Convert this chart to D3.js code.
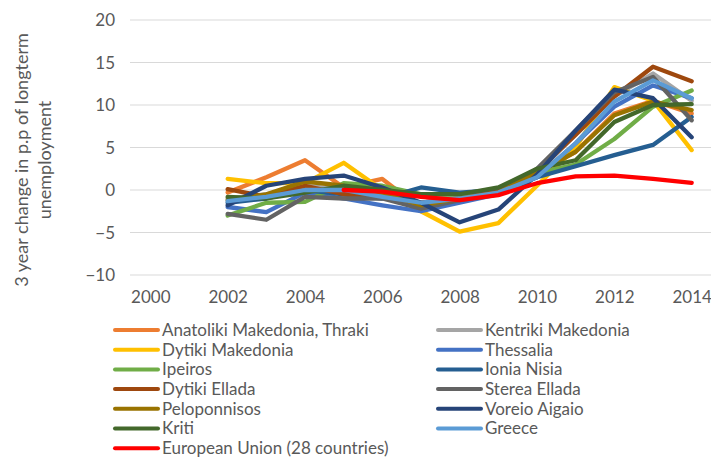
<!DOCTYPE html>
<html><head><meta charset="utf-8">
<script src="https://cdn.jsdelivr.net/npm/d3@7"></script>
<style>body{margin:0;background:#fff;} text{font-family:Lato, "Open Sans", sans-serif; fill:#595959;}</style>
</head><body><svg id="c" width="711" height="457"></svg>
<script>
const years = [2000,2001,2002,2003,2004,2005,2006,2007,2008,2009,2010,2011,2012,2013,2014];
const xTickLabels = [2000,2002,2004,2006,2008,2010,2012,2014];
const yTicks = [-10,-5,0,5,10,15,20];
const seriesNames = ["Anatoliki Makedonia, Thraki","Kentriki Makedonia","Dytiki Makedonia","Thessalia","Ipeiros","Ionia Nisia","Dytiki Ellada","Sterea Ellada","Peloponnisos","Voreio Aigaio","Kriti","Greece","European Union (28 countries)"];
const seriesColors = ["#ED7D31","#A5A5A5","#FFC000","#4472C4","#70AD47","#255E91","#9E480E","#636363","#997300","#264478","#43682B","#5B9BD5","#FF0000"];
const anatoliki   = [null,null,-0.3,1.5,3.5,0.3,1.3,-2.2,-1.2,-0.5,2.0,4.5,9.0,10.5,9.0];
const kentriki    = [null,null,-1.0,-0.5,0.5,0.0,-0.5,-1.5,-1.0,-0.3,2.0,6.5,11.0,13.7,10.5];
const dytikiMak   = [null,null,1.3,0.8,0.8,3.2,0.0,-2.5,-4.9,-3.9,0.5,5.0,12.1,10.5,4.7];
const thessalia   = [null,null,-2.0,-2.6,-0.3,-1.0,-1.8,-2.5,-1.5,-0.5,1.5,5.5,9.8,12.3,10.8];
const ipeiros     = [null,null,-3.0,-1.5,-1.4,0.8,0.5,-0.5,-0.5,0.0,2.0,3.0,6.0,9.8,11.7];
const ioniaNisia  = [null,null,-1.5,-1.0,0.0,-0.5,-1.0,0.3,-0.3,0.0,1.5,2.8,4.1,5.3,8.6];
const dytikiEll   = [null,null,0.1,-0.8,0.5,-0.5,-0.8,-1.5,-1.0,-0.2,2.2,6.5,11.0,14.5,12.8];
const stereaEll   = [null,null,-2.8,-3.5,-0.8,-1.0,-1.0,-2.2,-1.2,-0.5,2.5,7.0,11.5,13.3,8.2];
const peloponnisos= [null,null,-1.2,-0.5,1.0,0.5,-0.3,-1.8,-1.0,-0.3,2.0,4.5,8.8,10.4,9.4];
const voreio      = [null,null,-1.8,0.5,1.3,1.7,0.3,-1.5,-3.8,-2.3,1.8,7.0,11.8,10.8,6.2];
const kriti       = [null,null,-0.8,-1.0,-0.3,0.5,0.0,-0.5,-0.5,0.3,2.5,3.5,8.0,10.0,10.1];
const greece      = [null,null,-1.3,-0.8,0.0,0.0,-0.8,-1.5,-1.0,-0.3,1.5,5.5,10.4,12.9,10.8];
const eu28        = [null,null,null,null,null,0.0,-0.2,-0.8,-1.2,-0.6,0.8,1.6,1.7,1.3,0.85];
const seriesValues = [anatoliki,kentriki,dytikiMak,thessalia,ipeiros,ioniaNisia,dytikiEll,stereaEll,peloponnisos,voreio,kriti,greece,eu28];

const svg = d3.select("#c");
const x = d3.scalePoint().domain(years).range([131,711]).padding(0.5);
const y = d3.scaleLinear().domain([-10,20]).range([275,20]);

// gridlines
svg.append("g").selectAll("line").data(yTicks).join("line")
  .attr("x1",130).attr("x2",711).attr("y1",d=>y(d)).attr("y2",d=>y(d))
  .attr("stroke","#d9d9d9").attr("stroke-width",1);

// y axis labels
const yAxis = d3.axisLeft(y).tickValues(yTicks).tickSize(0).tickPadding(0);
const gy = svg.append("g").attr("transform","translate(115,0)").call(yAxis);
gy.select(".domain").remove();
gy.selectAll("text").attr("font-size",17).style("font-family","Lato").attr("fill","#595959").attr("dy","0.35em");

// x axis labels
const xAxis = d3.axisBottom(x).tickValues(xTickLabels).tickSize(0).tickPadding(0);
const gx = svg.append("g").attr("transform","translate(0,291)").call(xAxis);
gx.select(".domain").remove();
gx.selectAll("text").attr("font-size",17).style("font-family","Lato").attr("fill","#595959").attr("dy","0.71em");

// lines
const line = d3.line().defined(d=>d!=null).x((d,i)=>x(years[i])).y(d=>y(d));
svg.append("g").selectAll("path").data(seriesValues).join("path")
  .attr("d",d=>line(d)).attr("fill","none")
  .attr("stroke",(d,i)=>seriesColors[i]).attr("stroke-width",4.3)
  .attr("stroke-linejoin","round").attr("stroke-linecap","round");

// y title
const t = svg.append("text").attr("transform","translate(22,160) rotate(-90)")
  .attr("text-anchor","middle").attr("font-size",18);
t.append("tspan").attr("x",0).attr("dy","0.35em").text("3 year change in p.p of longterm");
t.append("tspan").attr("x",0).attr("dy","1.28em").text("unemployment");

// legend
const leg = svg.append("g").selectAll("g").data(seriesNames).join("g")
  .attr("transform",(d,i)=>`translate(${i%2===0?115:438},${330+Math.floor(i/2)*19.7})`);
leg.append("line").attr("x1",0).attr("x2",43).attr("y1",0).attr("y2",0)
  .attr("stroke",(d,i)=>seriesColors[i]).attr("stroke-width",4).attr("stroke-linecap","round");
leg.append("text").attr("x",47).attr("dy","0.35em").attr("font-size",17).text(d=>d);
</script></body></html>
